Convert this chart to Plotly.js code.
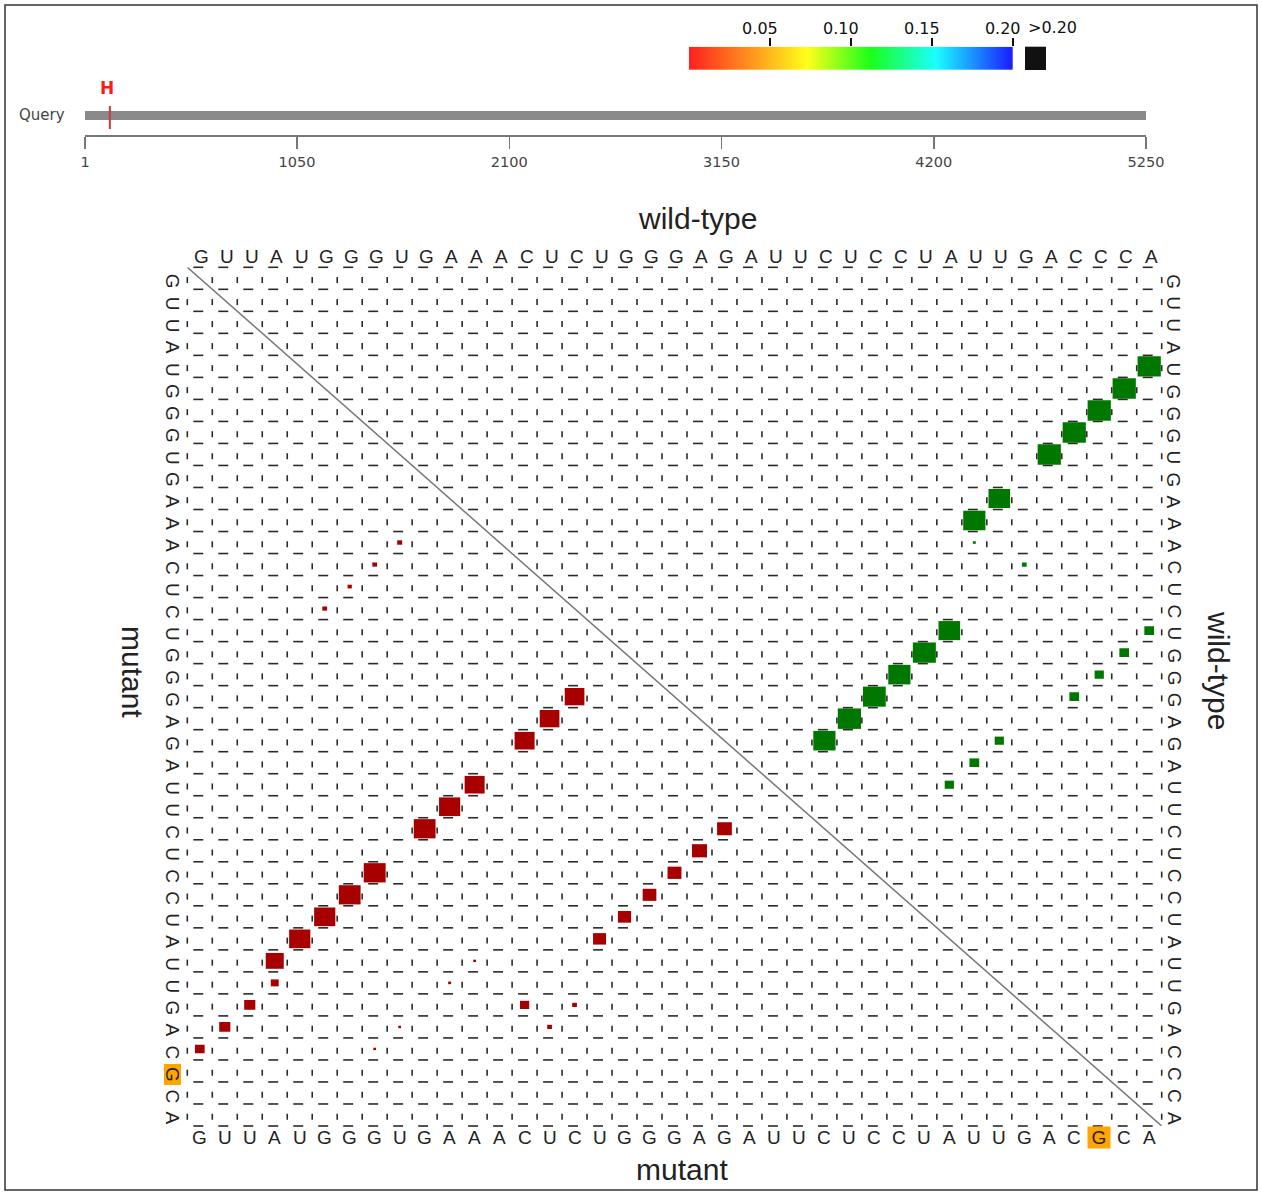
<!DOCTYPE html>
<html><head><meta charset="utf-8">
<script src="https://cdn.plot.ly/plotly-3.0.1.min.js"></script>
<style>html,body{margin:0;padding:0;background:#fff}</style>
</head><body><div id="chart" style="width:1262px;height:1194px"></div>
<script>
// ---------------- data ----------------
const wtSeq  = "GUUAUGGGUGAAACUCUGGGAGAUUCUCCUAUUGACCCA".split("");
const mutSeq = "GUUAUGGGUGAAACUCUGGGAGAUUCUCCUAUUGACGCA".split("");
const snpIndex = 37;              // mutated nucleotide in the window
const queryLength = 5250;
const snpPosition = 124;          // SNP position in the query
const snpLabel = "H";
const queryTicks = [1, 1050, 2100, 3150, 4200, 5250];
const scaleTicks = [0.05, 0.10, 0.15, 0.20];
const scaleTickText = ["0.05", "0.10", "0.15", "0.20"];

// wild-type base pair probabilities (upper-right triangle)
const wtI    = [5, 6, 7, 8, 9, 11, 12, 13, 14, 17, 18, 19, 20, 21, 22, 17, 18, 19, 20, 22, 23, 24];
const wtJ    = [39, 38, 37, 36, 35, 33, 32, 32, 34, 31, 30, 29, 28, 27, 26, 39, 38, 37, 36, 33, 32, 31];
const wtProb = [0.865, 0.865, 0.865, 0.865, 0.865, 0.75, 0.79, 0.014, 0.036, 0.75, 0.85, 0.79, 0.83, 0.865, 0.79,
                0.152, 0.152, 0.137, 0.152, 0.137, 0.152, 0.137];

// mutant base pair probabilities (lower-left triangle)
const mutI    = [16, 15, 14, 12, 11, 10, 8, 7, 6, 5, 4, 4, 3, 2, 1, 22, 21, 20, 19, 18, 17, 9, 8, 7, 6, 12, 11, 14, 16, 15, 9, 8];
const mutJ    = [20, 21, 22, 24, 25, 26, 28, 29, 30, 31, 32, 33, 34, 35, 36, 26, 27, 28, 29, 30, 31, 13, 14, 15, 16, 32, 33, 34, 34, 35, 35, 36];
const mutProb = [0.62, 0.62, 0.64, 0.64, 0.72, 0.76, 0.77, 0.76, 0.72, 0.72, 0.52, 0.10, 0.20, 0.20, 0.15,
                 0.35, 0.36, 0.31, 0.30, 0.28, 0.27, 0.04, 0.036, 0.029, 0.036, 0.012, 0.014, 0.137, 0.036, 0.036, 0.012, 0.012];

// ---------------- layout helpers ----------------
const W = 1262, H = 1194;
const px = v => v / W;
const py = v => 1 - v / H;
const N = wtSeq.length;
const FONT_SEQ = "Liberation Sans, Arial, sans-serif";
const FONT_DV = "DejaVu Sans, sans-serif";
const GREEN = "#007800", RED = "#a80000", ORANGE = "#ffa500";

// grid marks: short vertical ticks on column boundaries, short dashes on row boundaries
const tickX = [], tickY = [], dashX = [], dashY = [];
for (let b = 0; b <= N; b++) {
  for (let r = 1; r <= N; r++) { tickX.push(b + 0.5); tickY.push(r + 0.08); }
}
for (let b = 0; b <= N; b++) {
  for (let c = 1; c <= N; c++) { dashX.push(c - 0.06); dashY.push(b + 0.5); }
}

const traces = [
  {type: "scatter", mode: "markers", x: tickX, y: tickY, xaxis: "x", yaxis: "y", hoverinfo: "skip", cliponaxis: false,
   marker: {symbol: "line-ns", size: 4.3, color: "#222", line: {width: 1.6, color: "#2a2a2a"}}},
  {type: "scatter", mode: "markers", x: dashX, y: dashY, xaxis: "x", yaxis: "y", hoverinfo: "skip", cliponaxis: false,
   marker: {symbol: "line-ew", size: 7.1, color: "#222", line: {width: 1.6, color: "#2a2a2a"}}},
  {type: "scatter", mode: "lines", x: [0.5, N + 0.5], y: [0.5, N + 0.5], xaxis: "x", yaxis: "y", hoverinfo: "skip",
   cliponaxis: false, line: {color: "#777", width: 1.5}},
  // query track
  {type: "scatter", mode: "lines", x: [1, queryLength], y: [19.5, 19.5], xaxis: "x2", yaxis: "y2", hoverinfo: "skip",
   line: {color: "#8a8a8a", width: 9}},
  {type: "scatter", mode: "lines", x: [snpPosition, snpPosition], y: [6, 29], xaxis: "x2", yaxis: "y2", hoverinfo: "skip",
   line: {color: "#cc3a3a", width: 2}},
  // colour scale
  {type: "heatmap", x: [0, 0.2], y: [0], z: [[0, 0.2]], xaxis: "x3", yaxis: "y3", zsmooth: "best", showscale: false,
   zmin: 0, zmax: 0.2, hoverinfo: "skip",
   colorscale: [[0, "#ff2020"], [0.363, "#ffff1a"], [0.559, "#1aff1a"], [0.76, "#1affff"], [1, "#1a1aff"]]}
];

// probability boxes
const shapes = [];
function addBoxes(xs, ys, ps, color) {
  for (let k = 0; k < ps.length; k++) {
    const s = Math.sqrt(ps[k]);
    shapes.push({type: "rect", xref: "x", yref: "y", x0: xs[k] - s / 2, x1: xs[k] + s / 2,
                 y0: ys[k] - s / 2, y1: ys[k] + s / 2, fillcolor: color, line: {width: 0}, layer: "above"});
  }
}
addBoxes(wtJ, wtI, wtProb, GREEN);
addBoxes(mutI, mutJ, mutProb, RED);
// ">0.20" swatch and frame
shapes.push({type: "rect", xref: "paper", yref: "paper", x0: px(1025), x1: px(1046), y0: py(70), y1: py(46.7),
             fillcolor: "#111", line: {width: 0}});
shapes.push({type: "rect", xref: "paper", yref: "paper", x0: px(5), x1: px(1257), y0: py(1190), y1: py(5),
             fillcolor: "rgba(0,0,0,0)", line: {width: 1.5, color: "#333"}});

// sequence letters
const annotations = [];
const A = o => Object.assign({showarrow: false, xanchor: "center", yanchor: "middle"}, o);
const seqFont = {family: FONT_SEQ, size: 19, color: "#222"};
for (let k = 0; k < N; k++) {
  const pos = k + 1;
  const hl = pos === snpIndex;
  annotations.push(A({xref: "x", yref: "paper", x: pos, y: py(256.7), text: wtSeq[k], xshift: 2, font: seqFont}));
  annotations.push(A(Object.assign({xref: "x", yref: "paper", x: pos, y: py(1137), text: mutSeq[k], font: seqFont},
                    hl ? {bgcolor: ORANGE, width: 20, height: 19} : {})));
  annotations.push(A(Object.assign({xref: "paper", yref: "y", x: px(172.5), y: pos, text: mutSeq[k], yshift: -3,
                    textangle: 90, font: seqFont}, hl ? {bgcolor: ORANGE, width: 18, height: 14} : {})));
  annotations.push(A({xref: "paper", yref: "y", x: px(1174), y: pos, text: wtSeq[k], yshift: -3,
                    textangle: 90, font: seqFont}));
}
const titleFont = {family: FONT_SEQ, size: 30, color: "#222"};
annotations.push(A({xref: "paper", yref: "paper", x: px(697), y: py(219), text: "wild-type", font: titleFont}));
annotations.push(A({xref: "paper", yref: "paper", x: px(682), y: py(1169), text: "mutant", font: titleFont}));
annotations.push(A({xref: "paper", yref: "paper", x: px(133), y: py(672), text: "mutant", textangle: 90, font: titleFont}));
annotations.push(A({xref: "paper", yref: "paper", x: px(1218), y: py(670), text: "wild-type", textangle: 90, font: titleFont}));
annotations.push(A({xref: "paper", yref: "paper", x: px(41.5), y: py(115), text: "Query",
                  font: {family: FONT_DV, size: 15, color: "#444"}}));
annotations.push(A({xref: "x2", yref: "paper", x: snpPosition, y: py(88), xshift: -3, text: "<b>" + snpLabel + "</b>",
                  font: {family: FONT_DV, size: 17, color: "#ff1a1a"}}));
annotations.push(A({xref: "paper", yref: "paper", x: px(1052), y: py(28), text: ">0.20",
                  font: {family: FONT_DV, size: 16, color: "#111"}}));

const layout = {
  width: W, height: H, autosize: false, showlegend: false,
  margin: {l: 0, r: 0, t: 0, b: 0, pad: 0},
  paper_bgcolor: "#fff", plot_bgcolor: "rgba(0,0,0,0)",
  xaxis: {domain: [px(187.3), px(1161.7)], range: [0.5, N + 0.5], visible: false, fixedrange: true},
  yaxis: {domain: [py(1126), py(267.3)], range: [N + 0.5, 0.5], visible: false, fixedrange: true},
  xaxis2: {domain: [px(85), px(1146)], range: [1, queryLength], anchor: "y2", side: "bottom",
           tickmode: "array", tickvals: queryTicks, ticktext: queryTicks.map(String),
           ticks: "outside", ticklen: 12, tickwidth: 1.5, tickcolor: "#777", showline: true, linecolor: "#777", linewidth: 1.5,
           showgrid: false, zeroline: false, ticklabelstandoff: 1,
           tickfont: {family: FONT_DV, size: 14.5, color: "#444"}},
  yaxis2: {domain: [py(135), py(78)], range: [0, 57], anchor: "x2", visible: false},
  xaxis3: {domain: [px(689), px(1012.7)], range: [0, 0.2], anchor: "y3", side: "top",
           tickmode: "array", tickvals: scaleTicks, ticktext: scaleTickText,
           ticks: "outside", ticklen: 8, tickwidth: 2, tickcolor: "#111", showline: false, showgrid: false, zeroline: false,
           ticklabelstandoff: -3, ticklabelshift: -10, tickfont: {family: FONT_DV, size: 16, color: "#111"}},
  yaxis3: {domain: [py(70), py(46.7)], range: [-0.5, 0.5], anchor: "x3", visible: false},
  shapes: shapes,
  annotations: annotations
};

Plotly.newPlot("chart", traces, layout, {displayModeBar: false, staticPlot: true});
</script>
</body></html>
